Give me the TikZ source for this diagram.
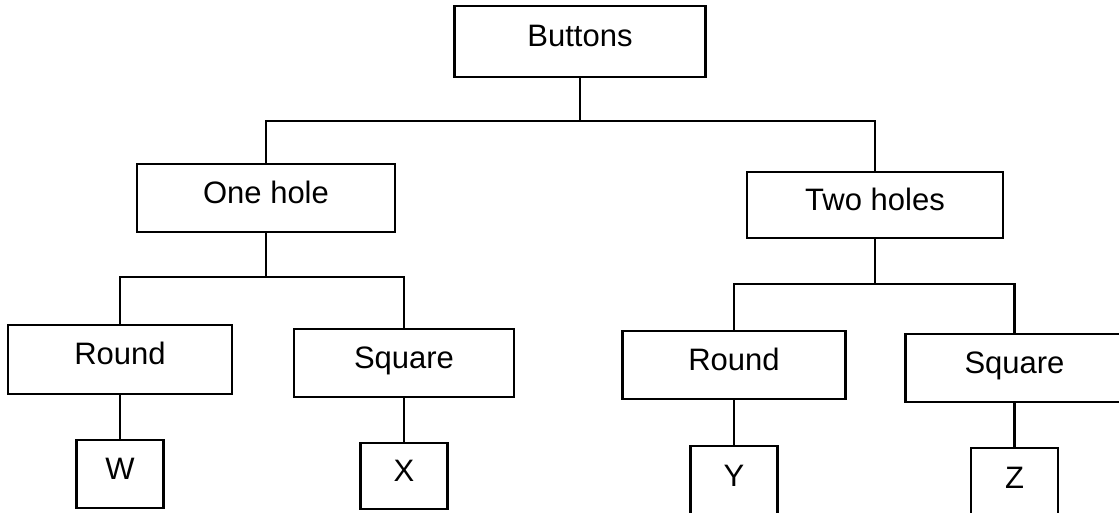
\documentclass[tikz,border=0pt]{standalone}
\usepackage{fontspec}
\setmainfont{Liberation Sans}

\begin{document}
\begin{tikzpicture}[x=0.5pt, y=-0.5pt, line width=1.2pt,
	box/.style={draw, rectangle, inner sep=0pt, minimum height=34pt,
		text height=0.72em, text depth=0.18em,
		font=\fontsize{15.5}{18}\selectfont},
	leaf/.style={box, minimum width=43.5pt}]
	\useasboundingbox (0,0) rectangle (1119,513);
	% top
	\node[box, minimum width=125.5pt, minimum height=35.5pt] (buttons) at (580,41.5) {Buttons};
	\node[box, minimum width=129pt] (onehole) at (266,198) {One hole};
	\node[box, minimum width=128pt, minimum height=33pt] (twoholes) at (875,205) {Two holes};
	% shapes
	\node[box, minimum width=112pt, minimum height=34.5pt] (round1) at (120,359.5) {Round};
	\node[box, minimum width=110pt] (square1) at (404,363) {Square};
	\node[box, minimum width=111.5pt] (round2) at (734,365) {Round};
	\node[box, minimum width=109pt] (square2) at (1014.5,368) {Square};
	% letters
	\node[leaf] (w) at (120,474) {W};
	\node[leaf, minimum height=33pt] (x) at (404,476) {X};
	\node[leaf, minimum height=35pt] (y) at (734,481) {Y};
	\node[leaf, minimum height=35pt] (z) at (1014.5,483) {Z};
	% joints
	\coordinate (bus) at (0,121);
	\coordinate (onebus) at (0,277);
	\coordinate (twobus) at (0,284);
	\draw (buttons.south) -- (buttons.south |- bus) -| (onehole.north);
	\draw (buttons.south |- bus) -| (twoholes.north);
	\draw (onehole.south) -- (onehole.south |- onebus) -| (round1.north);
	\draw (onehole.south |- onebus) -| (square1.north);
	\draw (twoholes.south) -- (twoholes.south |- twobus) -| (round2.north);
	\draw (twoholes.south |- twobus) -| (square2.north);
	\draw (round1) -- (w);
	\draw (square1) -- (x);
	\draw (round2) -- (y);
	\draw (square2) -- (z);
\end{tikzpicture}
\end{document}
